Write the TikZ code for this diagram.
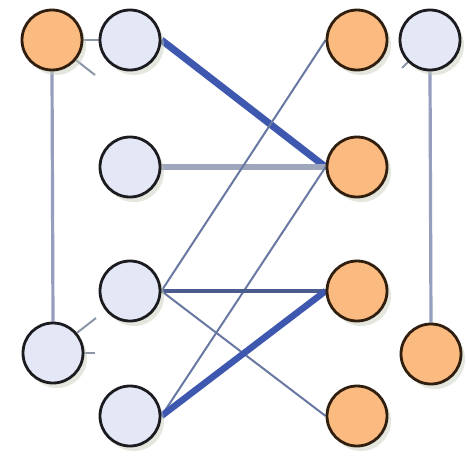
\documentclass[tikz,border=0pt]{standalone}
\usetikzlibrary{shadows,backgrounds}
\definecolor{orangefill}{RGB}{250,186,128}
\definecolor{lightfill}{RGB}{228,232,246}
\definecolor{darkline}{RGB}{28,28,32}
\definecolor{orangeline}{RGB}{48,30,14}
\definecolor{thickblue}{RGB}{62,88,176}
\definecolor{midblue}{RGB}{74,92,142}
\definecolor{grayblue}{RGB}{150,158,190}
\definecolor{lightgray}{RGB}{158,166,188}
\definecolor{thinblue}{RGB}{104,120,162}
\definecolor{stubgray}{RGB}{140,150,168}
\definecolor{shadowc}{RGB}{196,202,180}
\begin{document}
\begin{tikzpicture}[x=1pt,y=-1pt,
  nd/.style={circle, minimum size=60pt, inner sep=0pt, line width=2.8pt,
    drop shadow={opacity=0.45, shadow xshift=4pt, shadow yshift=-5pt, fill=shadowc}},
  onode/.style={nd, fill=orangefill, draw=orangeline},
  lnode/.style={nd, fill=lightfill, draw=darkline},
  vline/.style={draw=grayblue, line width=3.2pt},
  shortline/.style={draw=stubgray, line width=2.4pt},
  thickline/.style={draw=thickblue, line width=7pt},
  grayline/.style={draw=lightgray, line width=5.5pt},
  midline/.style={draw=midblue, line width=3.6pt},
  thinline/.style={draw=thinblue, line width=2pt},
  stub/.style={draw=stubgray, line width=2pt}]
\useasboundingbox (0,0) rectangle (466,458);
\node[onode] (A) at (52,40) {};
\node[lnode] (C) at (130,40) {};
\node[onode] (G) at (357,40) {};
\node[lnode] (K) at (430,40) {};
\node[lnode] (D) at (130,167) {};
\node[onode] (H) at (357,167) {};
\node[lnode] (E) at (130,291) {};
\node[onode] (I) at (357,291) {};
\node[lnode] (B) at (53,353) {};
\node[onode] (L) at (431,354) {};
\node[lnode] (F) at (130,416) {};
\node[onode] (J) at (357,416) {};
\coordinate (s1) at (95,75);
\coordinate (s2) at (96,318);
\coordinate (s3) at (95,353);
\coordinate (s4) at (402,68);
\begin{pgfonlayer}{background}
\fill[white] (0,0) rectangle (466,458);
\draw[vline] (A.south) -- (B.north);
\draw[vline] (K.south) -- (L.north);
\draw[shortline] (A.east) -- (C.west);
\draw[thickline] (C.east) -- (H.west);
\draw[grayline] (D.east) -- (H.west);
\draw[thinline] (E.east) -- (G.west);
\draw[thinline] (F.east) -- (H.west);
\draw[midline] (E.east) -- (I.west);
\draw[thinline] (E.east) -- (J.west);
\draw[thickline, line width=6.5pt] (F.east) -- (I.west);
\draw[stub] (A.-40) -- (s1);
\draw[stub] (B.40) -- (s2);
\draw[stub] (B.east) -- (s3);
\draw[stub] (K.-135) -- (s4);
\end{pgfonlayer}
\end{tikzpicture}
\end{document}
